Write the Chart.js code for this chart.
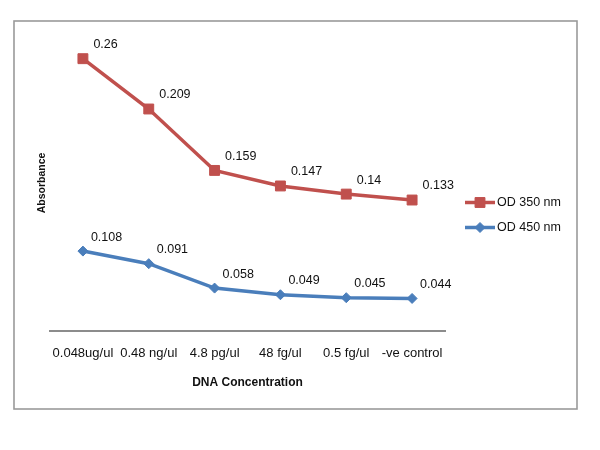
<!DOCTYPE html>
<html>
<head>
<meta charset="utf-8">
<script src="https://cdn.jsdelivr.net/npm/chart.js@4/dist/chart.umd.min.js"></script>
<style>
  html, body { margin: 0; padding: 0; background: #fff; }
  canvas { display: block; }
</style>
</head>
<body>
<canvas id="c" width="600" height="450"></canvas>
<script>
// Absorbance vs DNA concentration — Excel-style stacked line chart.

const categories = ['0.048ug/ul', '0.48 ng/ul', '4.8 pg/ul', '48 fg/ul', '0.5 fg/ul', '-ve control'];
const od450 = [0.108, 0.091, 0.058, 0.049, 0.045, 0.044];
const od350 = [0.26, 0.209, 0.159, 0.147, 0.14, 0.133];
const seriesNames = ['OD 450 nm', 'OD 350 nm'];

const RED = '#C0504D';
const BLUE = '#4A7EBB';
const FONT = '"Liberation Sans", Arial, sans-serif';

// white page + grey frame round the whole chart
const framePlugin = {
  id: 'frame',
  beforeDraw(chart) {
    const ctx = chart.ctx;
    ctx.save();
    ctx.fillStyle = '#fff';
    ctx.fillRect(0, 0, chart.width, chart.height);
    ctx.strokeStyle = '#9a9a9a';
    ctx.lineWidth = 1.6;
    ctx.strokeRect(14, 21, 563, 388);
    ctx.restore();
  }
};

// value labels above-right of each point (raw value, not stacked total)
const valueLabels = {
  id: 'valueLabels',
  afterDatasetsDraw(chart) {
    const ctx = chart.ctx;
    ctx.save();
    ctx.font = '12.5px ' + FONT;
    ctx.fillStyle = '#111';
    ctx.textAlign = 'left';
    ctx.textBaseline = 'middle';
    chart.data.datasets.forEach((ds, i) => {
      const meta = chart.getDatasetMeta(i);
      const dx = ds.labelDx;
      meta.data.forEach((pt, j) => {
        ctx.fillText(String(ds.data[j]), pt.x + dx, pt.y - 14);
      });
    });
    ctx.restore();
  }
};

// legend on the right: line with marker, red series first
const sideLegend = {
  id: 'sideLegend',
  afterDraw(chart) {
    const ctx = chart.ctx;
    const order = [1, 0];
    ctx.save();
    order.forEach((idx, k) => {
      const ds = chart.data.datasets[idx];
      const y = 202.5 + k * 25;
      ctx.strokeStyle = ds.borderColor;
      ctx.lineWidth = 3.5;
      ctx.beginPath();
      ctx.moveTo(465, y);
      ctx.lineTo(495, y);
      ctx.stroke();
      ctx.fillStyle = ds.pointBackgroundColor;
      ctx.strokeStyle = ds.pointBorderColor;
      ctx.lineWidth = 1;
      Chart.helpers.drawPoint(ctx, { pointStyle: ds.pointStyle, radius: ds.pointRadius, borderWidth: 1, rotation: 0 }, 480, y);
      ctx.fillStyle = '#111';
      ctx.font = '12.5px ' + FONT;
      ctx.textAlign = 'left';
      ctx.textBaseline = 'middle';
      ctx.fillText(ds.label, 497, y + 0.5);
    });
    ctx.restore();
  }
};

new Chart(document.getElementById('c'), {
  type: 'line',
  data: {
    labels: categories,
    datasets: [
      {
        label: seriesNames[0],
        data: od450,
        borderColor: BLUE,
        backgroundColor: BLUE,
        borderWidth: 3.5,
        pointStyle: 'rectRot',
        pointRadius: 5,
        pointBackgroundColor: BLUE,
        pointBorderColor: BLUE,
        pointBorderWidth: 1,
        tension: 0,
        fill: false,
        labelDx: 8,
      },
      {
        label: seriesNames[1],
        data: od350,
        borderColor: RED,
        backgroundColor: RED,
        borderWidth: 3.5,
        pointStyle: 'rect',
        pointRadius: 7,
        pointBackgroundColor: RED,
        pointBorderColor: RED,
        pointBorderWidth: 1,
        tension: 0,
        fill: false,
        labelDx: 10.5,
      },
    ]
  },
  options: {
    responsive: false,
    animation: false,
    layout: { padding: { left: 32, right: 155, top: 35, bottom: 56 } },
    plugins: {
      legend: { display: false },
      tooltip: { enabled: false },
    },
    scales: {
      x: {
        offset: true,
        grid: { display: false, drawTicks: false, offset: true },
        border: { display: true, color: '#8c8c8c', width: 2 },
        ticks: {
          color: '#111',
          font: { family: FONT, size: 13 },
          padding: 15,
          autoSkip: false,
          maxRotation: 0,
        },
        title: {
          display: true,
          text: 'DNA Concentration',
          color: '#111',
          font: { family: FONT, size: 12, weight: 'bold' },
          padding: { top: 4, bottom: 4 },
        },
        afterFit(scale) { scale.height = 63; },
      },
      y: {
        stacked: true,
        min: 0,
        max: 0.4,
        grid: { display: false, drawTicks: false },
        border: { display: false },
        ticks: { display: false },
        title: {
          display: true,
          text: 'Absorbance',
          color: '#111',
          font: { family: FONT, size: 10.5, weight: 'bold' },
          padding: { top: 4, bottom: 4 },
        },
        afterFit(scale) { scale.width = 18; },
      }
    }
  },
  plugins: [framePlugin, valueLabels, sideLegend]
});
</script>
</body>
</html>
